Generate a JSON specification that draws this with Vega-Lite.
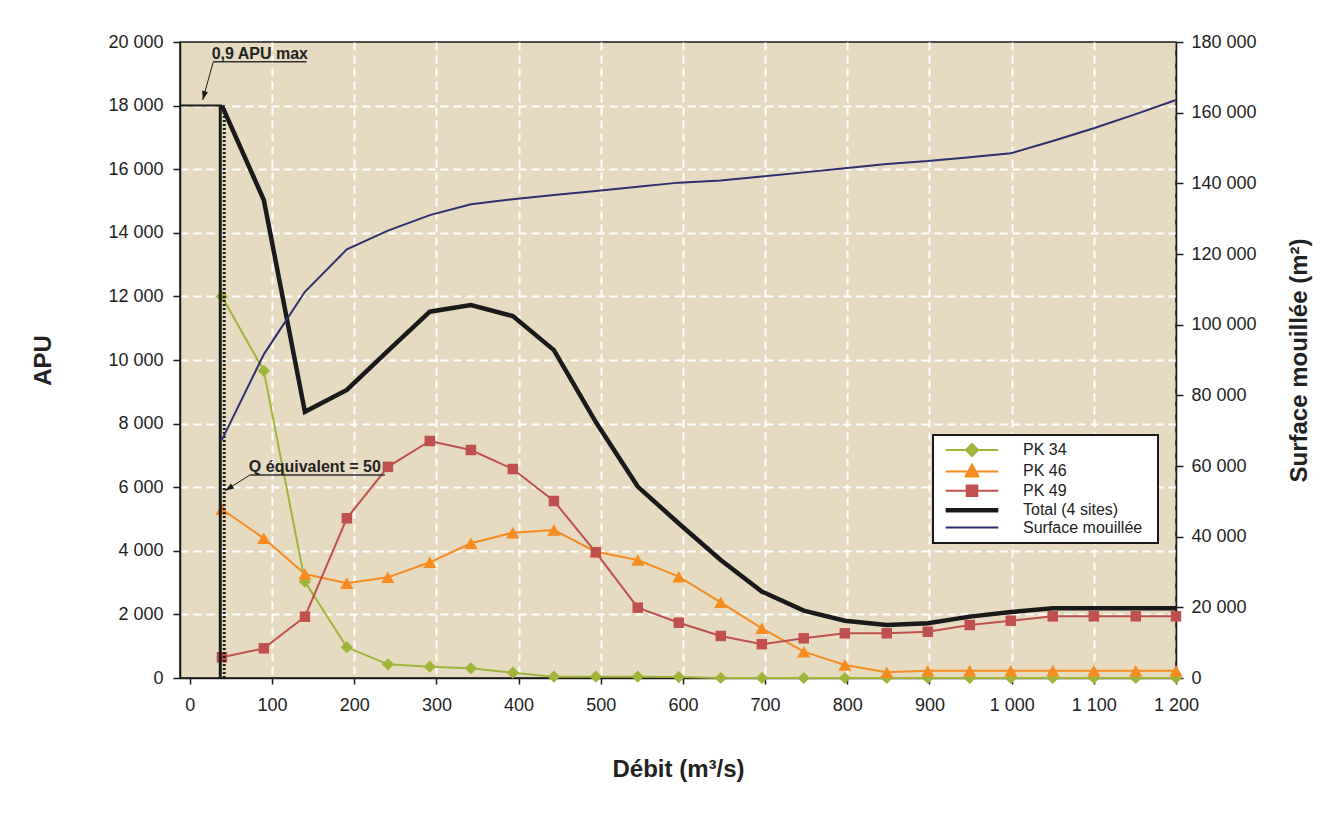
{
  "$schema": "https://vega.github.io/schema/vega-lite/v6.json",
  "width": 996,
  "height": 636,
  "autosize": {"type": "none"},
  "padding": {"left": 180, "top": 42, "right": 160, "bottom": 139},
  "background": "white",
  "config": {
    "font": "Liberation Sans",
    "view": {"fill": "#E6DBC1", "stroke": "#1a1a1a", "strokeWidth": 1.5},
    "axis": {
      "labelFont": "Liberation Sans", "labelFontSize": 18, "labelColor": "#222222",
      "titleFont": "Liberation Sans", "titleFontSize": 24, "titleFontWeight": "bold", "titleColor": "#222222",
      "tickColor": "#1a1a1a", "tickWidth": 1.5, "domainColor": "#1a1a1a", "domainWidth": 1.5
    }
  },
  "datasets": {
    "curves": [
      {"x": 39, "PK 34": 12000, "PK 46": 5305, "PK 49": 651, "Total (4 sites)": 18000, "Surface mouillée": 67400},
      {"x": 90, "PK 34": 9660, "PK 46": 4393, "PK 49": 934, "Total (4 sites)": 15030, "Surface mouillée": 91600},
      {"x": 140, "PK 34": 3030, "PK 46": 3270, "PK 49": 1928, "Total (4 sites)": 8370, "Surface mouillée": 109300},
      {"x": 191, "PK 34": 965, "PK 46": 2978, "PK 49": 5022, "Total (4 sites)": 9060, "Surface mouillée": 121300},
      {"x": 241, "PK 34": 430, "PK 46": 3166, "PK 49": 6640, "Total (4 sites)": 10290, "Surface mouillée": 126600},
      {"x": 292, "PK 34": 356, "PK 46": 3638, "PK 49": 7453, "Total (4 sites)": 11520, "Surface mouillée": 131000},
      {"x": 342, "PK 34": 305, "PK 46": 4236, "PK 49": 7170, "Total (4 sites)": 11730, "Surface mouillée": 134100},
      {"x": 393, "PK 34": 167, "PK 46": 4570, "PK 49": 6572, "Total (4 sites)": 11380, "Surface mouillée": 135500},
      {"x": 443, "PK 34": 41, "PK 46": 4654, "PK 49": 5566, "Total (4 sites)": 10310, "Surface mouillée": 136700},
      {"x": 494, "PK 34": 41, "PK 46": 3972, "PK 49": 3953, "Total (4 sites)": 8050, "Surface mouillée": 137800},
      {"x": 545, "PK 34": 41, "PK 46": 3711, "PK 49": 2211, "Total (4 sites)": 6020, "Surface mouillée": 139000},
      {"x": 595, "PK 34": 30, "PK 46": 3186, "PK 49": 1739, "Total (4 sites)": 4860, "Surface mouillée": 140200},
      {"x": 646, "PK 34": 0, "PK 46": 2380, "PK 49": 1321, "Total (4 sites)": 3710, "Surface mouillée": 140800},
      {"x": 696, "PK 34": 0, "PK 46": 1563, "PK 49": 1064, "Total (4 sites)": 2720, "Surface mouillée": 141900},
      {"x": 747, "PK 34": 0, "PK 46": 827, "PK 49": 1248, "Total (4 sites)": 2120, "Surface mouillée": 143100},
      {"x": 797, "PK 34": 0, "PK 46": 409, "PK 49": 1406, "Total (4 sites)": 1800, "Surface mouillée": 144300},
      {"x": 848, "PK 34": 0, "PK 46": 179, "PK 49": 1406, "Total (4 sites)": 1670, "Surface mouillée": 145500},
      {"x": 898, "PK 34": 0, "PK 46": 230, "PK 49": 1456, "Total (4 sites)": 1720, "Surface mouillée": 146300},
      {"x": 949, "PK 34": 0, "PK 46": 230, "PK 49": 1667, "Total (4 sites)": 1930, "Surface mouillée": 147400},
      {"x": 999, "PK 34": 0, "PK 46": 230, "PK 49": 1802, "Total (4 sites)": 2075, "Surface mouillée": 148500},
      {"x": 1050, "PK 34": 0, "PK 46": 230, "PK 49": 1940, "Total (4 sites)": 2190, "Surface mouillée": 152000},
      {"x": 1100, "PK 34": 0, "PK 46": 230, "PK 49": 1940, "Total (4 sites)": 2190, "Surface mouillée": 155600},
      {"x": 1151, "PK 34": 0, "PK 46": 230, "PK 49": 1940, "Total (4 sites)": 2190, "Surface mouillée": 159600},
      {"x": 1200, "PK 34": 0, "PK 46": 230, "PK 49": 1940, "Total (4 sites)": 2190, "Surface mouillée": 163600}
    ]
  },
  "encoding": {
    "x": {
      "field": "x", "type": "quantitative",
      "scale": {"domain": [-12, 1200], "nice": false, "zero": false},
      "title": "Débit (m³/s)",
      "axis": {
        "orient": "bottom",
        "values": [0, 100, 200, 300, 400, 500, 600, 700, 800, 900, 1000, 1100, 1200],
        "labelExpr": "replace(format(datum.value, ','), ',', ' ')",
        "labelFlush": false, "labelOverlap": false,
        "tickSize": 6, "labelPadding": 12, "titlePadding": 43,
        "grid": true, "gridColor": "#ffffff", "gridDash": [8, 5], "gridWidth": 2,
        "gridOpacity": {"condition": {"test": "datum.value === 0", "value": 0}, "value": 1}
      }
    }
  },
  "layer": [
    {
      "encoding": {
        "y": {
          "field": "v", "type": "quantitative",
          "scale": {"domain": [0, 20000], "nice": false},
          "title": "APU",
          "axis": {
            "orient": "left",
            "values": [0, 2000, 4000, 6000, 8000, 10000, 12000, 14000, 16000, 18000, 20000],
            "labelExpr": "replace(format(datum.value, ','), ',', ' ')",
            "tickSize": 7, "labelPadding": 10, "titlePadding": 52,
            "grid": true, "gridColor": "#ffffff", "gridDash": [8, 5], "gridWidth": 2,
            "gridOpacity": {"condition": {"test": "datum.value === 0 || datum.value === 20000", "value": 0}, "value": 1}
          }
        }
      },
      "layer": [
        {
          "data": {"name": "curves"},
          "transform": [
            {"fold": ["PK 34", "PK 46", "PK 49", "Total (4 sites)", "Surface mouillée"], "as": ["key", "v"]},
            {"filter": {"field": "key", "oneOf": ["PK 34", "PK 46", "PK 49"]}}
          ],
          "mark": {"type": "line", "strokeWidth": 2},
          "encoding": {
            "color": {
              "field": "key", "type": "nominal",
              "scale": {
                "domain": ["PK 34", "PK 46", "PK 49", "Total (4 sites)", "Surface mouillée"],
                "range": ["#A0B43A", "#F68B1F", "#C0504D", "#1a1a1a", "#2E2F6E"]
              },
              "legend": {
                "orient": "none", "legendX": 753, "legendY": 393,
                "title": ".", "titleOrient": "right", "titleColor": "transparent", "titleFontSize": 2, "titlePadding": 8,
                "fillColor": "#ffffff", "strokeColor": "#1a1a1a", "padding": 7,
                "labelFont": "Liberation Sans", "labelFontSize": 16, "labelColor": "#222222",
                "symbolSize": 100, "symbolStrokeWidth": 2, "symbolOffset": 24, "labelOffset": 43, "rowPadding": 0.4,
                "encode": {
                  "legend": {"update": {"strokeWidth": {"value": 2}}},
                  "symbols": {
                    "update": {
                      "shape": {"signal": "datum.value === 'PK 34' ? 'M-5.27,0H5.27M0,-1.2L1.2,0L0,1.2L-1.2,0Z' : datum.value === 'PK 46' ? 'M-5.27,0H5.27M0,-1.35L1.3,1L-1.3,1Z' : datum.value === 'PK 49' ? 'M-5.27,0H5.27M-1.05,-1.05H1.05V1.05H-1.05Z' : 'M-5.27,0H5.27'"},
                      "fill": {"signal": "datum.value === 'PK 34' ? '#A0B43A' : datum.value === 'PK 46' ? '#F68B1F' : datum.value === 'PK 49' ? '#C0504D' : 'transparent'"},
                      "stroke": {"signal": "datum.value === 'PK 34' ? '#A0B43A' : datum.value === 'PK 46' ? '#F68B1F' : datum.value === 'PK 49' ? '#C0504D' : datum.value === 'Total (4 sites)' ? '#1a1a1a' : '#2E2F6E'"},
                      "strokeWidth": {"signal": "datum.value === 'Total (4 sites)' ? 4.5 : 2"},
                      "opacity": {"value": 1}
                    }
                  }
                }
              }
            }
          }
        },
        {
          "data": {"name": "curves"},
          "transform": [
            {"fold": ["PK 34", "PK 46", "PK 49", "Total (4 sites)", "Surface mouillée"], "as": ["key", "v"]},
            {"filter": {"field": "key", "oneOf": ["PK 34", "PK 46", "PK 49"]}}
          ],
          "mark": {"type": "point", "filled": true, "opacity": 1},
          "encoding": {
            "color": {
              "field": "key", "type": "nominal",
              "scale": {
                "domain": ["PK 34", "PK 46", "PK 49", "Total (4 sites)", "Surface mouillée"],
                "range": ["#A0B43A", "#F68B1F", "#C0504D", "#1a1a1a", "#2E2F6E"]
              }
            },
            "shape": {
              "field": "key", "type": "nominal",
              "scale": {"domain": ["PK 34", "PK 46", "PK 49"], "range": ["diamond", "triangle-up", "square"]},
              "legend": null
            },
            "size": {
              "field": "key", "type": "nominal",
              "scale": {"type": "ordinal", "domain": ["PK 34", "PK 46", "PK 49"], "range": [150, 175, 110]},
              "legend": null
            }
          }
        },
        {
          "data": {"name": "curves"},
          "transform": [
            {"fold": ["PK 34", "PK 46", "PK 49", "Total (4 sites)", "Surface mouillée"], "as": ["key", "v"]},
            {"filter": {"field": "key", "equal": "Total (4 sites)"}}
          ],
          "mark": {"type": "line", "strokeWidth": 4.5, "strokeJoin": "miter"},
          "encoding": {
            "color": {
              "field": "key", "type": "nominal",
              "scale": {
                "domain": ["PK 34", "PK 46", "PK 49", "Total (4 sites)", "Surface mouillée"],
                "range": ["#A0B43A", "#F68B1F", "#C0504D", "#1a1a1a", "#2E2F6E"]
              }
            }
          }
        },
        {
          "data": {"values": [{"x": -12, "x2": 39, "v": 18000}]},
          "mark": {"type": "rule", "color": "#1a1a1a", "strokeWidth": 2},
          "encoding": {"x2": {"field": "x2"}}
        },
        {
          "data": {"values": [{"x": 37, "v": 0, "v2": 18000}]},
          "mark": {"type": "rule", "color": "#1a1a1a", "strokeWidth": 3},
          "encoding": {"y2": {"field": "v2"}}
        },
        {
          "data": {"values": [{"x": 41.8, "v": 0, "v2": 18000}]},
          "mark": {"type": "rule", "color": "#1a1a1a", "strokeWidth": 3, "strokeDash": [2, 2]},
          "encoding": {"y2": {"field": "v2"}}
        },
        {
          "data": {"values": [{"x": 28.5, "x2": 142, "v": 19381}, {"x": 73.1, "x2": 237.4, "v": 6384}]},
          "mark": {"type": "rule", "color": "#333333", "strokeWidth": 1.5},
          "encoding": {"x2": {"field": "x2"}}
        },
        {
          "data": {"values": [{"x": 28.5, "x2": 15.6, "v": 19381, "v2": 18176}, {"x": 73.1, "x2": 42.7, "v": 6384, "v2": 5890}]},
          "mark": {"type": "rule", "color": "#1a1a1a", "strokeWidth": 1},
          "encoding": {"x2": {"field": "x2"}, "y2": {"field": "v2"}}
        },
        {
          "data": {"values": [{"x": 15.6, "v": 18176}]},
          "mark": {"type": "point", "filled": true, "opacity": 1, "color": "#1a1a1a", "shape": "M0,0L-0.4,-1.2L0.4,-1.2Z", "size": 225, "angle": 15.5}
        },
        {
          "data": {"values": [{"x": 42.7, "v": 5890}]},
          "mark": {"type": "point", "filled": true, "opacity": 1, "color": "#1a1a1a", "shape": "M0,0L-0.4,-1.2L0.4,-1.2Z", "size": 225, "angle": 58}
        },
        {
          "data": {"values": [{"x": 26.5, "v": 19456, "label": "0,9 APU max"}, {"x": 71.8, "v": 6469, "label": "Q équivalent = 50"}]},
          "mark": {"type": "text", "align": "left", "baseline": "alphabetic", "font": "Liberation Sans", "fontSize": 16, "fontWeight": "bold", "color": "#222222"},
          "encoding": {"text": {"field": "label"}}
        }
      ]
    },
    {
      "data": {"name": "curves"},
      "transform": [
        {"fold": ["PK 34", "PK 46", "PK 49", "Total (4 sites)", "Surface mouillée"], "as": ["key", "v"]},
        {"filter": {"field": "key", "equal": "Surface mouillée"}}
      ],
      "mark": {"type": "line", "strokeWidth": 2},
      "encoding": {
        "y": {
          "field": "v", "type": "quantitative",
          "scale": {"domain": [0, 180000], "nice": false},
          "title": "Surface mouillée (m²)",
          "axis": {
            "orient": "right",
            "values": [0, 20000, 40000, 60000, 80000, 100000, 120000, 140000, 160000, 180000],
            "labelExpr": "replace(format(datum.value, ','), ',', ' ')",
            "tickSize": 7, "labelPadding": 8, "titlePadding": 31,
            "titleAngle": -90, "titleBaseline": "top",
            "grid": false
          }
        },
        "color": {
          "field": "key", "type": "nominal",
          "scale": {
            "domain": ["PK 34", "PK 46", "PK 49", "Total (4 sites)", "Surface mouillée"],
            "range": ["#A0B43A", "#F68B1F", "#C0504D", "#1a1a1a", "#2E2F6E"]
          }
        }
      }
    }
  ],
  "resolve": {"scale": {"y": "independent"}}
}
